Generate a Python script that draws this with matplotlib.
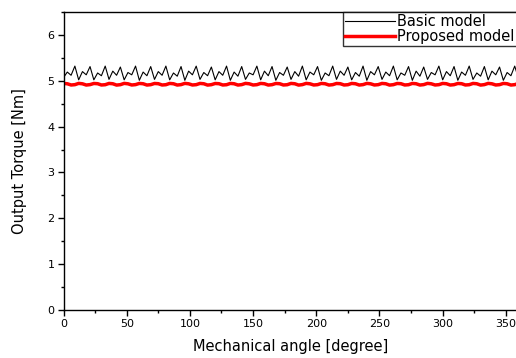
import matplotlib
matplotlib.use("Agg")
import matplotlib.pyplot as plt
from matplotlib.ticker import MultipleLocator

plt.rcParams['font.family'] = ['DejaVu Sans']

# angle samples every 3 degrees, 0..360
angle_step = 3
n_points = 121

basic_model = [
    5.07, 5.19, 5.12, 5.32, 5.02, 5.20, 5.13, 5.31, 5.02, 5.17, 5.11, 5.32,
    5.03, 5.21, 5.12, 5.30, 5.02, 5.18, 5.13, 5.32, 5.01, 5.19, 5.11, 5.31,
    5.03, 5.20, 5.12, 5.32, 5.02, 5.17, 5.10, 5.31, 5.01, 5.21, 5.13, 5.32,
    5.03, 5.18, 5.11, 5.30, 5.02, 5.20, 5.12, 5.32, 5.01, 5.19, 5.10, 5.31,
    5.03, 5.17, 5.13, 5.32, 5.02, 5.21, 5.11, 5.31, 5.01, 5.18, 5.12, 5.30,
    5.03, 5.20, 5.10, 5.32, 5.02, 5.19, 5.13, 5.31, 5.01, 5.17, 5.11, 5.32,
    5.03, 5.21, 5.12, 5.30, 5.02, 5.18, 5.10, 5.32, 5.01, 5.20, 5.13, 5.31,
    5.03, 5.19, 5.11, 5.32, 5.02, 5.17, 5.12, 5.31, 5.01, 5.21, 5.10, 5.30,
    5.03, 5.18, 5.13, 5.32, 5.02, 5.20, 5.11, 5.31, 5.01, 5.19, 5.12, 5.32,
    5.03, 5.17, 5.10, 5.31, 5.02, 5.21, 5.13, 5.30, 5.01, 5.18, 5.11, 5.32,
    5.05,
]

proposed_model = [
    4.942, 4.935, 4.908, 4.915, 4.943, 4.934, 4.907, 4.916, 4.941, 4.936, 4.908, 4.914,
    4.942, 4.935, 4.906, 4.915, 4.943, 4.934, 4.908, 4.916, 4.942, 4.935, 4.907, 4.915,
    4.941, 4.936, 4.908, 4.914, 4.942, 4.935, 4.907, 4.916, 4.943, 4.934, 4.908, 4.915,
    4.942, 4.935, 4.906, 4.915, 4.941, 4.936, 4.908, 4.914, 4.942, 4.935, 4.907, 4.916,
    4.943, 4.934, 4.908, 4.915, 4.942, 4.935, 4.907, 4.915, 4.941, 4.936, 4.908, 4.914,
    4.942, 4.935, 4.906, 4.916, 4.943, 4.934, 4.908, 4.915, 4.942, 4.935, 4.907, 4.915,
    4.941, 4.936, 4.908, 4.914, 4.942, 4.935, 4.907, 4.916, 4.943, 4.934, 4.908, 4.915,
    4.942, 4.935, 4.906, 4.915, 4.941, 4.936, 4.908, 4.914, 4.942, 4.935, 4.907, 4.916,
    4.943, 4.934, 4.908, 4.915, 4.942, 4.935, 4.907, 4.915, 4.941, 4.936, 4.908, 4.914,
    4.942, 4.935, 4.906, 4.916, 4.943, 4.934, 4.908, 4.915, 4.942, 4.935, 4.907, 4.915,
    4.942,
]

angles = [i * angle_step for i in range(n_points)]

fig = plt.figure(figsize=(5.16, 3.58), dpi=100)
ax = fig.add_axes([63.5 / 516, 48 / 358, 455 / 516, 298 / 358])

ax.plot(angles, basic_model, color="black", linewidth=0.8, label="Basic model")
ax.plot(angles, proposed_model, color="red", linewidth=2.5, label="Proposed model")

ax.set_xlim(0, 360)
ax.set_ylim(0, 6.5)
ax.xaxis.set_major_locator(MultipleLocator(50))
ax.xaxis.set_minor_locator(MultipleLocator(25))
ax.yaxis.set_major_locator(MultipleLocator(1))
ax.yaxis.set_minor_locator(MultipleLocator(0.5))
ax.tick_params(which="major", direction="out", length=4, width=1, labelsize=8, pad=2.5)
ax.tick_params(which="minor", direction="out", length=2, width=1)
ax.spines["right"].set_visible(False)
for s in ["left", "bottom", "top"]:
    ax.spines[s].set_linewidth(1.0)

ax.set_xlabel("Mechanical angle [degree]", fontsize=10.5, labelpad=7)
ax.set_ylabel("Output Torque [Nm]", fontsize=10.5, labelpad=15)

leg = ax.legend(loc="upper right", bbox_to_anchor=(0.996, 1.0), fontsize=10.5,
                frameon=True, fancybox=False, edgecolor="black",
                handlelength=3.4, handletextpad=0.15, borderpad=0.15,
                labelspacing=0.0, borderaxespad=0)
leg.get_frame().set_linewidth(1.0)

fig.savefig("out.png", dpi=100)
